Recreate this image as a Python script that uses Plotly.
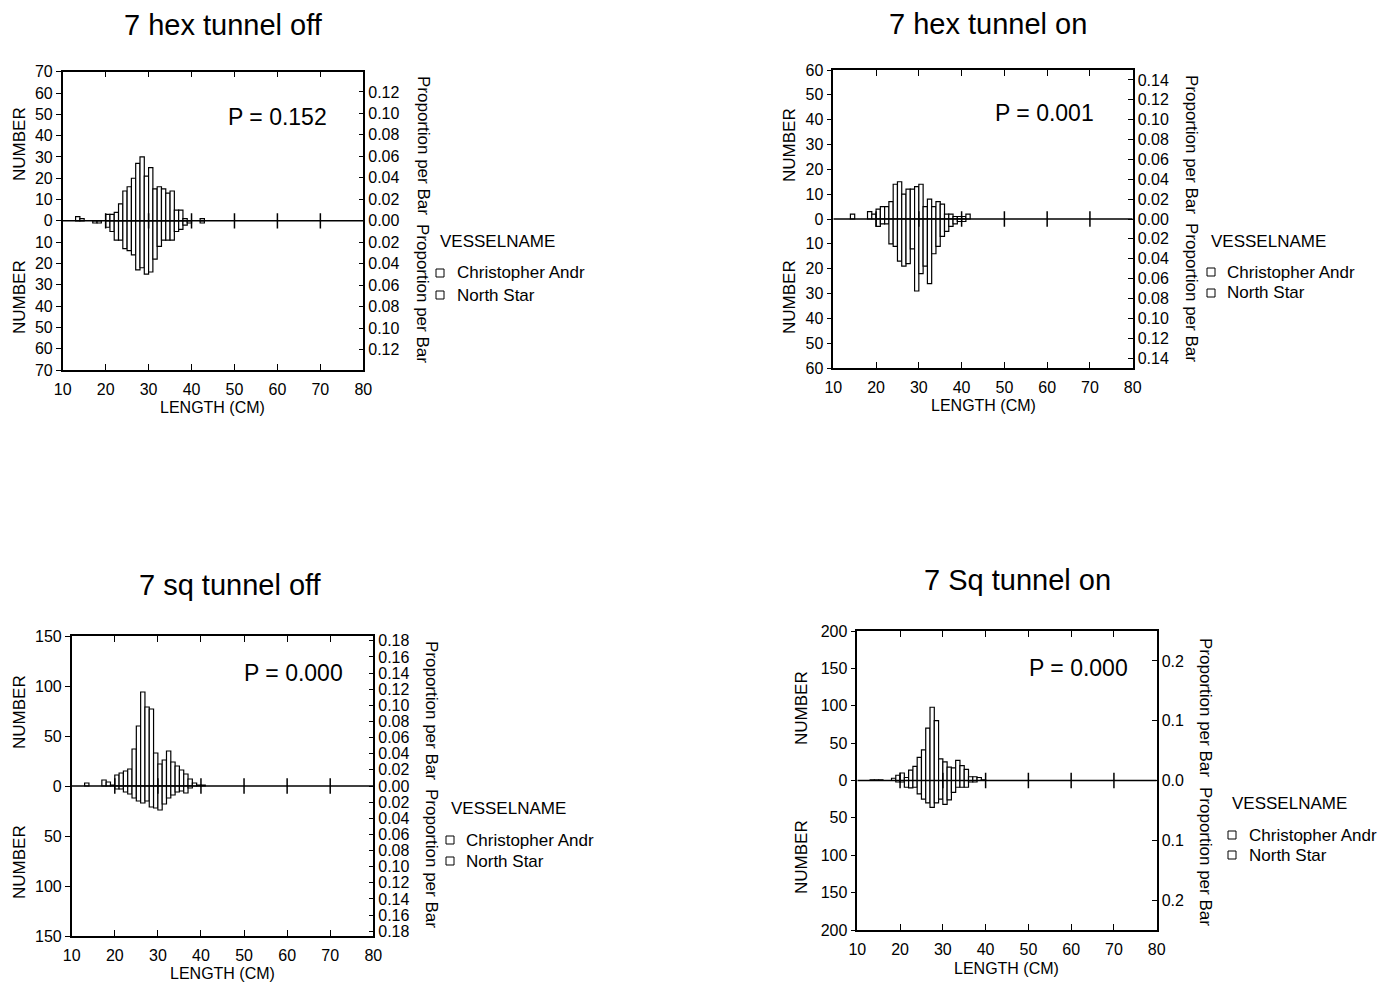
import plotly.graph_objects as go

W, H = 1390, 986

# 1-cm length bins (bin start, cm)
BIN_START = list(range(12, 44))

# counts per bin (upper = Christopher Andr, lower = North Star)
HEXOFF_CHRIS = [0, 2, 1, 0, 0, 0, 0, 0, 3, 3, 4, 8, 14, 16, 20, 27, 30, 21, 25, 15, 16, 15, 13, 14, 5, 5, 1, 0, 0, 0, 1, 0]
HEXOFF_NORTH = [0, 0, 0, 0, 0, 1, 1, 0, 3, 5, 9, 9, 13, 14, 16, 23, 22, 25, 24, 18, 12, 9, 9, 9, 5, 4, 2, 1, 0, 0, 1, 0]
HEXON_CHRIS = [0, 0, 2, 0, 0, 0, 3, 2, 4, 5, 5, 7, 14, 15, 10, 12, 12, 13, 14, 5, 8, 5, 7, 6, 2, 2, 1, 1, 1, 2, 0, 0]
HEXON_NORTH = [0, 0, 0, 0, 0, 0, 0, 0, 3, 2, 2, 10, 11, 17, 19, 18, 12, 29, 22, 19, 26, 14, 11, 7, 5, 3, 2, 1, 1, 0, 0, 0]
SQOFF_CHRIS = [0, 3, 0, 0, 0, 6, 4, 1, 11, 13, 15, 17, 37, 60, 94, 79, 77, 33, 22, 26, 35, 24, 20, 16, 12, 7, 3, 1, 1, 0, 0, 0]
SQOFF_NORTH = [0, 0, 0, 0, 0, 0, 0, 0, 3, 3, 6, 8, 12, 15, 17, 15, 21, 22, 24, 18, 12, 9, 6, 5, 7, 2, 0, 0, 0, 0, 0, 0]
SQON_CHRIS = [0, 1, 1, 1, 0, 0, 3, 7, 10, 4, 14, 19, 31, 41, 70, 98, 80, 29, 25, 18, 17, 27, 20, 15, 5, 5, 4, 1, 0, 0, 0, 0]
SQON_NORTH = [0, 0, 0, 0, 0, 0, 0, 2, 2, 9, 10, 9, 18, 25, 30, 36, 30, 25, 32, 26, 16, 9, 9, 9, 2, 2, 0, 0, 0, 0, 0, 0]

X_TICKS = [10, 20, 30, 40, 50, 60, 70, 80]
CROSS_X = [20, 30, 40, 50, 60, 70]

P1_COUNT_TICKS = [0, 10, 20, 30, 40, 50, 60, 70]
P1_PROP_TICKS = [0.00, 0.02, 0.04, 0.06, 0.08, 0.10, 0.12]
P2_COUNT_TICKS = [0, 10, 20, 30, 40, 50, 60]
P2_PROP_TICKS = [0.00, 0.02, 0.04, 0.06, 0.08, 0.10, 0.12, 0.14]
P3_COUNT_TICKS = [0, 50, 100, 150]
P3_PROP_TICKS = [0.00, 0.02, 0.04, 0.06, 0.08, 0.10, 0.12, 0.14, 0.16, 0.18]
P4_COUNT_TICKS = [0, 50, 100, 150, 200]
P4_PROP_TICKS = [0.0, 0.1, 0.2]

TITLES = ["7 hex tunnel off", "7 hex tunnel on", "7 sq tunnel off", "7 Sq tunnel on"]
P_TEXTS = ["P = 0.152", "P = 0.001", "P = 0.000", "P = 0.000"]
SERIES_NAMES = ["Christopher Andr", "North Star"]
LEGEND_TITLE = "VESSELNAME"

FONT = "Arial, 'Liberation Sans', sans-serif"

panels = [
    dict(up=HEXOFF_CHRIS, down=HEXOFF_NORTH, cmax=70, cticks=P1_COUNT_TICKS, pmax=0.1388,
         pticks=P1_PROP_TICKS, pfmt="{:.2f}", box=(62.7, 363.3, 71.7, 370.0), title=(223, 25),
         p=(277, 117), num=(19, 144, 297), prop=(423, 146, 294), lenxy=(212, 407),
         leg=(438, 242, 440, 455, 273, 295)),
    dict(up=HEXON_CHRIS, down=HEXON_NORTH, cmax=60, cticks=P2_COUNT_TICKS, pmax=0.150,
         pticks=P2_PROP_TICKS, pfmt="{:.2f}", box=(833.3, 1132.7, 70.0, 368.0), title=(988, 24),
         p=(1044, 113), num=(789, 145, 297), prop=(1192, 144, 292), lenxy=(983, 405),
         leg=(1209, 241, 1211, 1225, 272, 293)),
    dict(up=SQOFF_CHRIS, down=SQOFF_NORTH, cmax=150, cticks=P3_COUNT_TICKS, pmax=0.186,
         pticks=P3_PROP_TICKS, pfmt="{:.2f}", box=(71.7, 373.3, 636.0, 936.0), title=(230, 585),
         p=(293, 673), num=(19, 712, 862), prop=(432, 711, 859), lenxy=(222, 973),
         leg=(449, 808, 450, 464, 840, 861)),
    dict(up=SQON_CHRIS, down=SQON_NORTH, cmax=200, cticks=P4_COUNT_TICKS, pmax=0.25,
         pticks=P4_PROP_TICKS, pfmt="{:.1f}", box=(857.3, 1156.7, 631.0, 930.0), title=(1017, 580),
         p=(1078, 668), num=(801, 708, 857), prop=(1206, 707, 856), lenxy=(1006, 968),
         leg=(1230, 803, 1232, 1247, 835, 855)),
]

fig = go.Figure()
annotations = []
shapes = []
layout_axes = {}


def px(x):
    return x / W


def py(y):
    return 1 - y / H


def ann(text, x, y, size, xanchor="center", angle=0):
    annotations.append(dict(text=text, x=px(x), y=py(y), xref="paper", yref="paper",
                            xanchor=xanchor, yanchor="middle", showarrow=False,
                            textangle=angle, font=dict(family=FONT, size=size, color="black")))


centers = [b + 0.5 for b in BIN_START]

for i, pnl in enumerate(panels, start=1):
    xa = "x" if i == 1 else f"x{i}"
    ya = "y" if i == 1 else f"y{i}"
    yr_idx = i + 4
    yr = f"y{yr_idx}"

    up_x = [c for c, v in zip(centers, pnl["up"]) if v > 0]
    up_y = [v for v in pnl["up"] if v > 0]
    dn_x = [c for c, v in zip(centers, pnl["down"]) if v > 0]
    dn_y = [-v for v in pnl["down"] if v > 0]

    for bx, by in ((up_x, up_y), (dn_x, dn_y)):
        fig.add_trace(go.Bar(x=bx, y=by, base=0, width=1.0, xaxis=xa, yaxis=ya,
                             marker=dict(color="white", line=dict(color="black", width=1.2)),
                             showlegend=False, hoverinfo="skip"))

    # zero baseline drawn on the proportion axis (0 coincides on both axes)
    fig.add_trace(go.Scatter(x=[X_TICKS[0], X_TICKS[-1]], y=[0, 0], mode="lines", xaxis=xa, yaxis=yr,
                             line=dict(color="black", width=1.5), showlegend=False, hoverinfo="skip"))
    # tick crosses on the zero line
    fig.add_trace(go.Scatter(x=CROSS_X, y=[0] * len(CROSS_X), mode="markers", xaxis=xa, yaxis=ya,
                             marker=dict(symbol="line-ns-open", size=11, color="black",
                                         line=dict(color="black", width=1.5)),
                             showlegend=False, hoverinfo="skip"))

    x0, x1, y0, y1 = pnl["box"]
    axis_common = dict(showline=True, linecolor="black", linewidth=1.5, showgrid=False,
                       zeroline=False, tickcolor="black", tickwidth=1.2, automargin=False,
                       tickfont=dict(family=FONT, size=16, color="black"))

    xkey = "xaxis" if i == 1 else f"xaxis{i}"
    ykey = "yaxis" if i == 1 else f"yaxis{i}"
    yrkey = f"yaxis{yr_idx}"

    layout_axes[xkey] = dict(domain=[px(x0), px(x1)], anchor=ya, range=[10, 80],
                             tickvals=X_TICKS, ticks="inside", ticklen=6, mirror="ticks",
                             ticklabelstandoff=4, **axis_common)

    cvals = [-t for t in reversed(pnl["cticks"][1:])] + pnl["cticks"]
    ctext = [str(abs(t)) for t in cvals]
    layout_axes[ykey] = dict(domain=[py(y1), py(y0)], anchor=xa, range=[-pnl["cmax"], pnl["cmax"]],
                             tickvals=cvals, ticktext=ctext, ticks="outside", ticklen=5,
                             **axis_common)

    pvals = [-t for t in reversed(pnl["pticks"][1:])] + pnl["pticks"]
    ptext = [pnl["pfmt"].format(abs(t)) for t in pvals]
    layout_axes[yrkey] = dict(overlaying=ya, side="right", anchor=xa,
                              range=[-pnl["pmax"], pnl["pmax"]], tickvals=pvals, ticktext=ptext,
                              ticks="inside", ticklen=5, **axis_common)

    # texts
    ann(TITLES[i - 1], pnl["title"][0], pnl["title"][1], 29)
    ann(P_TEXTS[i - 1], pnl["p"][0], pnl["p"][1], 23)
    nx, ny1, ny2 = pnl["num"]
    ann("NUMBER", nx, ny1, 17, angle=-90)
    ann("NUMBER", nx, ny2, 17, angle=-90)
    rx, ry1, ry2 = pnl["prop"]
    ann("Proportion per Bar", rx, ry1, 17, angle=90)
    ann("Proportion per Bar", rx, ry2, 17, angle=90)
    ann("LENGTH (CM)", pnl["lenxy"][0], pnl["lenxy"][1], 16)
    lx, ly, sqx, tx, r1, r2 = pnl["leg"]
    ann(LEGEND_TITLE, lx, ly, 17, xanchor="left")
    for name, ry in zip(SERIES_NAMES, (r1, r2)):
        shapes.append(dict(type="rect", xref="paper", yref="paper",
                           x0=px(sqx - 4), x1=px(sqx + 4), y0=py(ry + 4), y1=py(ry - 4),
                           line=dict(color="black", width=1), fillcolor="white"))
        ann(name, tx, ry, 17, xanchor="left")

fig.update_layout(width=W, height=H, margin=dict(l=0, r=0, t=0, b=0, autoexpand=False),
                  paper_bgcolor="white", plot_bgcolor="white", barmode="overlay",
                  showlegend=False, annotations=annotations, shapes=shapes, **layout_axes)

fig.write_html("out.html", config={"displayModeBar": False},
               post_script="document.body.style.margin='0px';document.body.style.overflow='hidden';")
